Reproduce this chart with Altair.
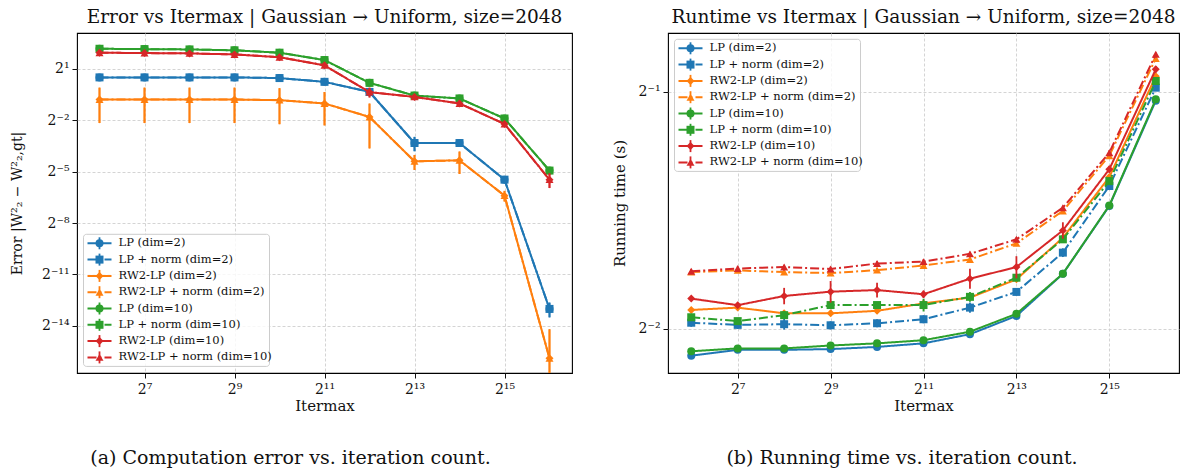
import altair as alt
import pandas as pd

# ---------------- data ----------------
ITERMAX = [64, 128, 256, 512, 1024, 2048, 4096, 8192, 16384, 32768, 65536]

LABELS = ["LP (dim=2)", "LP + norm (dim=2)", "RW2-LP (dim=2)", "RW2-LP + norm (dim=2)",
          "LP (dim=10)", "LP + norm (dim=10)", "RW2-LP (dim=10)", "RW2-LP + norm (dim=10)"]
COLORS = ["#1f77b4", "#1f77b4", "#ff7f0e", "#ff7f0e", "#2ca02c", "#2ca02c", "#d62728", "#d62728"]
SHAPES = ["circle", "square", "diamond", "triangle-up", "circle", "square", "diamond", "triangle-up"]
DASHES = ["solid", "dashdot", "solid", "dashdot", "solid", "dashdot", "solid", "dashdot"]

# (a) error |W2^2 - W2,gt^2|  (mean, std)
ERR_LP_D2 = [1.414, 1.414, 1.414, 1.414, 1.376, 1.181, 0.785, 0.0994, 0.0994, 0.0226, 0.0001212]
ERR_LPN_D2 = [1.414, 1.414, 1.414, 1.414, 1.376, 1.181, 0.785, 0.0994, 0.0994, 0.0226, 0.0001212]
ERR_RW_D2 = [0.578, 0.578, 0.578, 0.578, 0.563, 0.493, 0.285, 0.0474, 0.0494, 0.01184, 0.0000164]
ERR_RWN_D2 = [0.578, 0.578, 0.578, 0.578, 0.563, 0.493, 0.285, 0.0474, 0.0494, 0.01184, 0.0000164]
ERR_LP_D10 = [4.50, 4.44, 4.38, 4.23, 3.84, 2.85, 1.133, 0.678, 0.603, 0.268, 0.0326]
ERR_LPN_D10 = [4.50, 4.44, 4.38, 4.23, 3.84, 2.85, 1.133, 0.678, 0.603, 0.268, 0.0326]
ERR_RW_D10 = [3.84, 3.78, 3.73, 3.58, 3.20, 2.30, 0.779, 0.642, 0.493, 0.215, 0.0226]
ERR_RWN_D10 = [3.84, 3.78, 3.73, 3.58, 3.20, 2.30, 0.779, 0.642, 0.493, 0.215, 0.0226]

ERRSTD_LP_D2 = [0.0, 0.0, 0.0, 0.0, 0.0, 0.0, 0.02, 0.028, 0.004, 0.0015, 0.000035]
ERRSTD_LPN_D2 = [0.0, 0.0, 0.0, 0.0, 0.0, 0.0, 0.02, 0.028, 0.004, 0.0015, 0.000035]
ERRSTD_RW_D2 = [0.355, 0.355, 0.355, 0.355, 0.35, 0.29, 0.205, 0.014, 0.021, 0.0025, 0.000037]
ERRSTD_RWN_D2 = [0.355, 0.355, 0.355, 0.355, 0.35, 0.29, 0.205, 0.014, 0.021, 0.0025, 0.000037]
ERRSTD_LP_D10 = [0.0, 0.0, 0.0, 0.0, 0.0, 0.0, 0.0, 0.0, 0.0, 0.0, 0.0]
ERRSTD_LPN_D10 = [0.0, 0.0, 0.0, 0.0, 0.0, 0.0, 0.0, 0.0, 0.0, 0.0, 0.0]
ERRSTD_RW_D10 = [0.03, 0.03, 0.03, 0.03, 0.04, 0.06, 0.15, 0.03, 0.03, 0.01, 0.0065]
ERRSTD_RWN_D10 = [0.03, 0.03, 0.03, 0.03, 0.04, 0.06, 0.15, 0.03, 0.03, 0.01, 0.0065]

# (b) running time in seconds (mean, std)
RT_LP_D2 = [0.231, 0.235, 0.235, 0.2355, 0.237, 0.2395, 0.246, 0.2595, 0.2935, 0.358, 0.487]
RT_LPN_D2 = [0.2544, 0.2528, 0.2533, 0.2525, 0.254, 0.257, 0.2659, 0.2784, 0.3123, 0.3795, 0.506]
RT_RW_D2 = [0.2641, 0.2659, 0.2615, 0.2615, 0.2634, 0.2692, 0.2738, 0.2888, 0.3262, 0.3896, 0.5234]
RT_RWN_D2 = [0.295, 0.2965, 0.295, 0.2942, 0.2967, 0.3008, 0.3061, 0.3209, 0.3528, 0.4147, 0.551]
RT_LP_D10 = [0.234, 0.236, 0.236, 0.238, 0.2395, 0.2417, 0.2478, 0.2611, 0.2936, 0.3585, 0.489]
RT_LPN_D10 = [0.2585, 0.2556, 0.2601, 0.2679, 0.2679, 0.2679, 0.2744, 0.2902, 0.3247, 0.385, 0.516]
RT_RW_D10 = [0.273, 0.2678, 0.2751, 0.2786, 0.2799, 0.2765, 0.2894, 0.2994, 0.3333, 0.3986, 0.534]
RT_RWN_D10 = [0.2958, 0.2981, 0.2994, 0.2977, 0.3025, 0.3042, 0.3112, 0.3247, 0.3562, 0.4184, 0.558]

RTSTD_LP_D2 = [0.001, 0.001, 0.001, 0.001, 0.001, 0.001, 0.001, 0.001, 0.002, 0.002, 0.003]
RTSTD_LPN_D2 = [0.003, 0.003, 0.004, 0.003, 0.003, 0.003, 0.004, 0.003, 0.004, 0.004, 0.004]
RTSTD_RW_D2 = [0.002, 0.002, 0.002, 0.002, 0.002, 0.002, 0.002, 0.002, 0.002, 0.003, 0.003]
RTSTD_RWN_D2 = [0.002, 0.002, 0.002, 0.002, 0.002, 0.002, 0.002, 0.002, 0.002, 0.003, 0.003]
RTSTD_LP_D10 = [0.001, 0.001, 0.001, 0.001, 0.001, 0.001, 0.001, 0.001, 0.002, 0.002, 0.003]
RTSTD_LPN_D10 = [0.002, 0.002, 0.003, 0.002, 0.002, 0.005, 0.004, 0.002, 0.003, 0.004, 0.004]
RTSTD_RW_D10 = [0.002, 0.002, 0.0066, 0.0088, 0.0061, 0.003, 0.0085, 0.0097, 0.008, 0.004, 0.005]
RTSTD_RWN_D10 = [0.002, 0.002, 0.002, 0.002, 0.002, 0.002, 0.002, 0.002, 0.002, 0.003, 0.003]

X_TICKS = [128, 512, 2048, 8192, 32768]
ERR_TICKS = [2.0, 0.25, 0.03125, 0.00390625, 0.00048828125, 0.00006103515625]
RT_TICKS = [0.5, 0.25]

# ---------------- style ----------------
FONT = "DejaVu Serif"
DASH_RANGE = [[1, 0], [9, 3, 2, 3]]
MSIZE = 64
SUP = {"-": "\u207b", "0": "\u2070", "1": "\u00b9", "2": "\u00b2", "3": "\u00b3", "4": "\u2074",
       "5": "\u2075", "6": "\u2076", "7": "\u2077", "8": "\u2078", "9": "\u2079"}


def pow2_expr(ticks):
    import math
    parts = []
    for t in ticks:
        k = int(round(math.log2(t)))
        lab = "2" + "".join(SUP[c] for c in str(k))
        parts.append(f"round(log(datum.value)/LN2) == {k} ? '{lab}'")
    return " : ".join(parts) + " : ''"


def long_frame(means, stds):
    rows = []
    for s, (m, sd) in enumerate(zip(means, stds)):
        for x, v, e in zip(ITERMAX, m, sd):
            rows.append({"s": s, "x": x, "v": v, "lo": max(v - e, 1e-12), "hi": v + e})
    return pd.DataFrame(rows)


def panel(df, ydomain, yticks, ytitle, ytitle_pad, ytitle_size, title, width, height,
          legend_x, legend_y0, caption, cap_x):
    xsc = alt.Scale(type="log", base=2, domain=[45.25, 92682.0], nice=False)
    ysc = alt.Scale(type="log", base=2, domain=ydomain, nice=False)
    xax = alt.Axis(values=X_TICKS, labelExpr=pow2_expr(X_TICKS), title="Itermax", grid=True)
    yax = alt.Axis(values=yticks, labelExpr=pow2_expr(yticks), title=ytitle, grid=True,
                   titlePadding=ytitle_pad, titleFontSize=ytitle_size)
    layers = []
    for s in range(8):
        base = alt.Chart(df).transform_filter(alt.datum.s == s)
        col = COLORS[s]
        dash = DASH_RANGE[0] if DASHES[s] == "solid" else DASH_RANGE[1]
        layers.append(base.mark_rule(color=col, strokeWidth=1.8, clip=True).encode(
            x=alt.X("x:Q", scale=xsc, axis=xax), y=alt.Y("lo:Q", scale=ysc, axis=yax), y2="hi:Q"))
        layers.append(base.mark_line(color=col, strokeWidth=2, strokeDash=dash, clip=True).encode(
            x=alt.X("x:Q", scale=xsc), y=alt.Y("v:Q", scale=ysc)))
        layers.append(base.mark_point(color=col, filled=True, opacity=1, size=MSIZE, shape=SHAPES[s], clip=True).encode(
            x=alt.X("x:Q", scale=xsc), y=alt.Y("v:Q", scale=ysc)))

    # custom legend (matplotlib style)
    leg = pd.DataFrame({"idx": list(range(8)), "label": LABELS, "color": COLORS,
                        "shape": SHAPES, "dash": DASHES})
    sp = 16.3
    lb = alt.Chart(leg).transform_calculate(py=f"{legend_y0} + datum.idx * {sp}")
    box = alt.Chart(leg).transform_aggregate(n="count()").mark_rect(
        fill="white", fillOpacity=0.8, stroke="#cccccc", strokeWidth=1, cornerRadius=3).encode(
        x=alt.value(legend_x), x2=alt.value(legend_x + 186),
        y=alt.value(legend_y0 - 9), y2=alt.value(legend_y0 + 7 * sp + 9))
    lines = lb.mark_rule(strokeWidth=2).encode(
        x=alt.value(legend_x + 4), x2=alt.value(legend_x + 28),
        y=alt.Y("py:Q", scale=None), color=alt.Color("color:N", scale=None),
        strokeDash=alt.StrokeDash("dash:N", scale=alt.Scale(domain=["solid", "dashdot"], range=DASH_RANGE), legend=None))
    ebar = lb.transform_calculate(p1="datum.py - 6", p2="datum.py + 6").mark_rule(strokeWidth=1.8).encode(
        x=alt.value(legend_x + 16), y=alt.Y("p1:Q", scale=None), y2="p2:Q",
        color=alt.Color("color:N", scale=None))
    marks = lb.mark_point(filled=True, opacity=1, size=MSIZE).encode(
        x=alt.value(legend_x + 16), y=alt.Y("py:Q", scale=None),
        color=alt.Color("color:N", scale=None), shape=alt.Shape("shape:N", scale=None))
    texts = lb.mark_text(align="left", baseline="middle", font=FONT, fontSize=11.5, color="#111").encode(
        x=alt.value(legend_x + 35), y=alt.Y("py:Q", scale=None), text="label:N")
    cap = alt.Chart(pd.DataFrame({"t": [caption]})).mark_text(
        font=FONT, fontSize=19, align="center", baseline="middle", color="#111").encode(
        x=alt.value(cap_x), y=alt.value(height + 85), text="t:N")

    return alt.layer(*layers, box, lines, ebar, marks, texts, cap).properties(
        width=width, height=height,
        title=alt.TitleParams(title, font=FONT, fontSize=18.5, fontWeight="normal", color="#111",
                              anchor="middle", baseline="alphabetic", offset=-8))


df_err = long_frame([ERR_LP_D2, ERR_LPN_D2, ERR_RW_D2, ERR_RWN_D2, ERR_LP_D10, ERR_LPN_D10, ERR_RW_D10, ERR_RWN_D10],
                    [ERRSTD_LP_D2, ERRSTD_LPN_D2, ERRSTD_RW_D2, ERRSTD_RWN_D2, ERRSTD_LP_D10, ERRSTD_LPN_D10,
                     ERRSTD_RW_D10, ERRSTD_RWN_D10])
df_rt = long_frame([RT_LP_D2, RT_LPN_D2, RT_RW_D2, RT_RWN_D2, RT_LP_D10, RT_LPN_D10, RT_RW_D10, RT_RWN_D10],
                   [RTSTD_LP_D2, RTSTD_LPN_D2, RTSTD_RW_D2, RTSTD_RWN_D2, RTSTD_LP_D10, RTSTD_LPN_D10,
                    RTSTD_RW_D10, RTSTD_RWN_D10])

left = panel(df_err, [9.073e-6, 8.515], ERR_TICKS, "Error |W\u00b2\u2082 \u2212 W\u00b2\u2082,gt|", 17, 14,
             "Error vs Itermax | Gaussian \u2192 Uniform, size=2048", 495, 340, 6.5, 210.3,
             "(a) Computation error vs. iteration count.", 213.5)
right = panel(df_rt, [0.2196, 0.5938], RT_TICKS, "Running time (s)", 11, 15,
              "Runtime vs Itermax | Gaussian \u2192 Uniform, size=2048", 511, 340, 6.5, 15.3,
              "(b) Running time vs. iteration count.", 234)

chart = alt.hconcat(left, right, spacing=38).properties(
    padding={"left": 9, "top": 6, "right": 0, "bottom": 0}
).configure_view(stroke="#000000", strokeWidth=1.1).configure_axis(
    labelFont=FONT, titleFont=FONT, labelFontSize=14, titleFontSize=15, titleFontWeight="normal",
    labelColor="#111", titleColor="#111", tickColor="#111", tickSize=5, domain=False,
    gridColor="#cfcfcf", gridDash=[3, 2], gridWidth=0.9, labelPadding=3, titlePadding=6
).configure_axisX(labelBaseline="alphabetic", labelPadding=15, titlePadding=2)

chart.save("out.html", embed_options={"renderer": "svg", "actions": False})
